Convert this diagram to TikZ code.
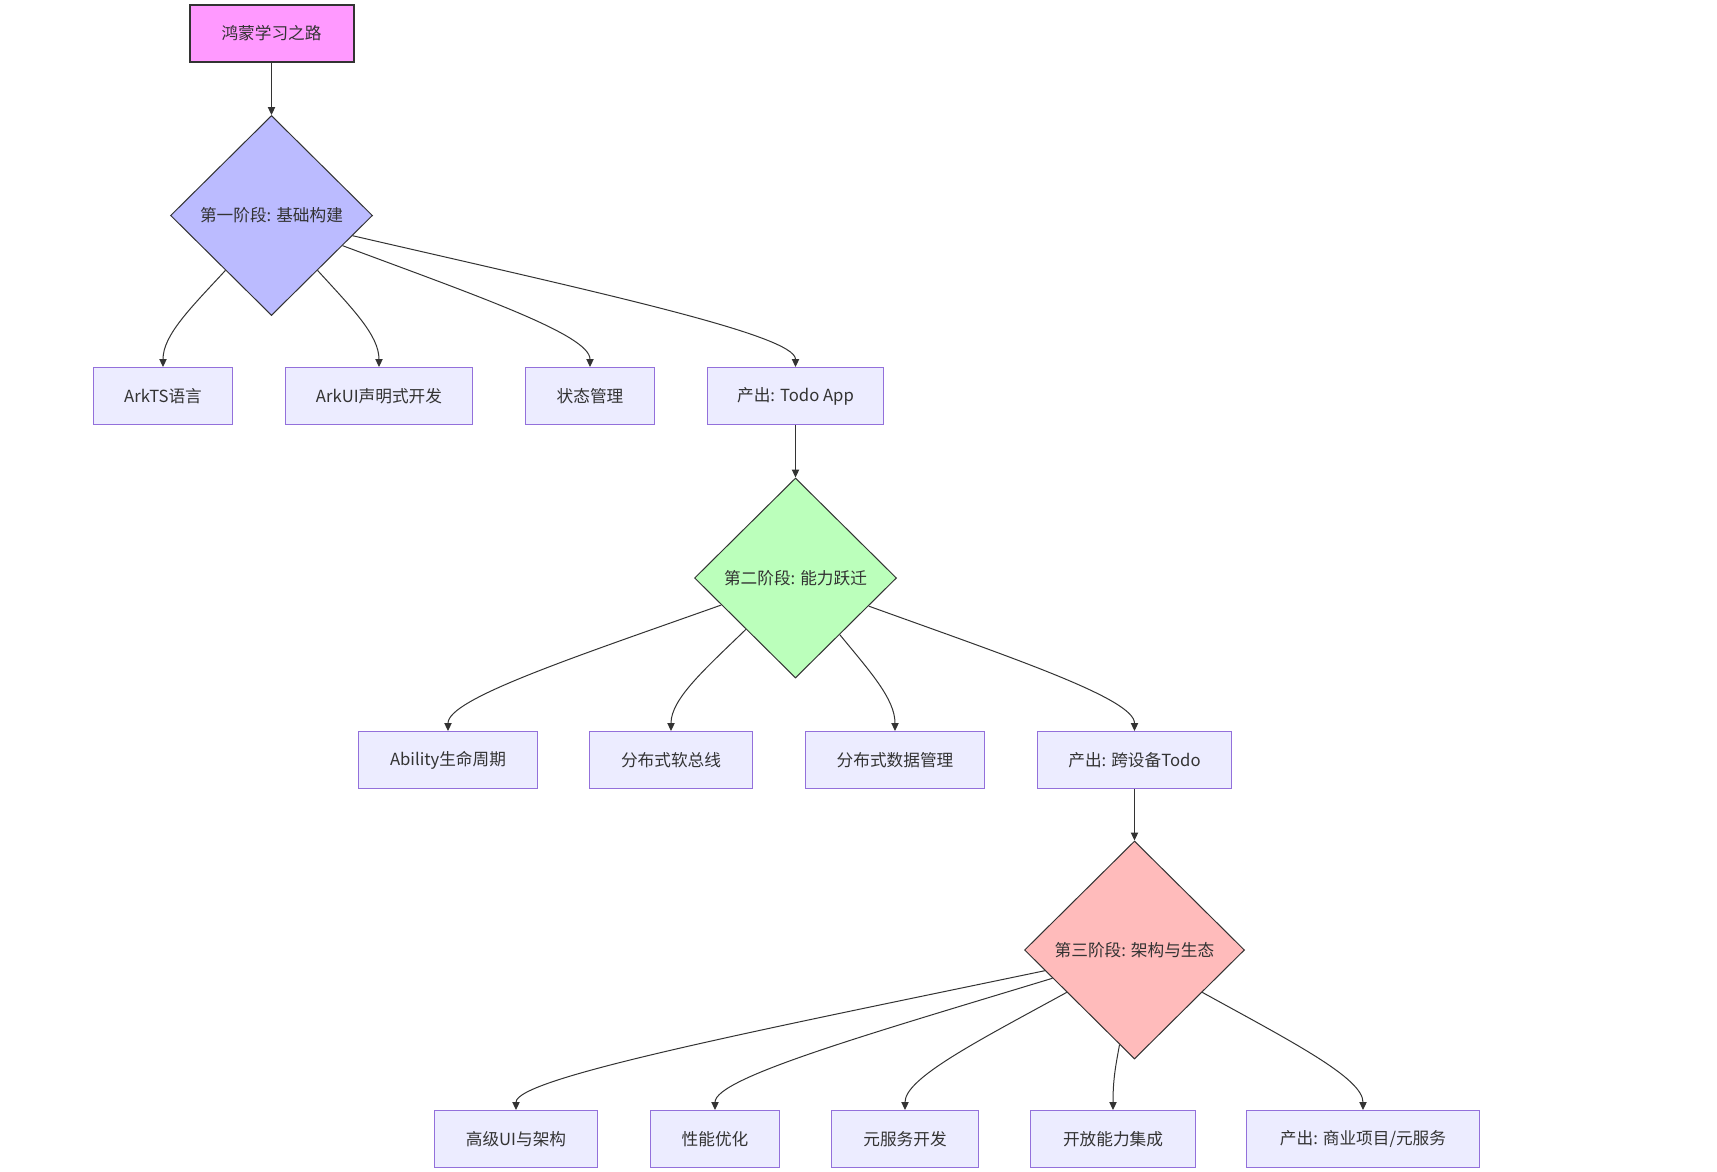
\documentclass[tikz,border=0pt]{standalone}
\usepackage{fontspec}
\setmainfont{Noto Sans CJK SC}
\usetikzlibrary{shapes.geometric,arrows.meta,calc}
\definecolor{txt}{HTML}{333333}
\definecolor{boxline}{HTML}{9370DB}
\definecolor{boxfill}{HTML}{ECECFF}
\definecolor{startfill}{HTML}{FF99FF}
\definecolor{dOne}{HTML}{BBBBFF}
\definecolor{dTwo}{HTML}{BBFFBB}
\definecolor{dThree}{HTML}{FFBBBB}
\begin{document}
\begin{tikzpicture}[x=0.75pt,y=-0.75pt,
  every node/.style={text=txt,font=\fontsize{12.5}{15}\selectfont,inner sep=0pt},
  box/.style={draw=boxline,fill=boxfill,line width=0.75pt,minimum height=42.75pt},
  startbox/.style={draw=txt,fill=startfill,line width=1.5pt,minimum height=42.75pt,minimum width=123pt},
  dia/.style={diamond,aspect=1,draw=txt,line width=0.75pt},
  arr/.style={draw=txt,line width=0.75pt,-{Triangle[length=6pt,width=5.5pt]}},
  curv/.style={arr,to path={.. controls ($(\tikztostart)!0.55!(\tikztotarget)+(0,-16)$) and ($(\tikztotarget)+(0,-32)$) .. (\tikztotarget)}}]
\useasboundingbox (0,0) rectangle (1717,1171);
\fill[white] (0,0) rectangle (1717,1171);

\node[startbox] (top) at (271.5,33.5) {鸿蒙学习之路};
\node[dia,fill=dOne,minimum width=151.5pt,minimum height=150pt] (d1) at (271.5,215.5) {第一阶段: 基础构建};

\node[box,minimum width=104.25pt] (b11) at (163,396) {ArkTS语言};
\node[box,minimum width=140.25pt] (b12) at (379,396) {ArkUI声明式开发};
\node[box,minimum width=96.75pt] (b13) at (590,396) {状态管理};
\node[box,minimum width=132pt] (b14) at (795.5,396) {产出: Todo App};

\node[dia,fill=dTwo,minimum width=151.5pt,minimum height=150pt] (d2) at (795.5,578) {第二阶段: 能力跃迁};

\node[box,minimum width=134.25pt] (b21) at (448,760) {Ability生命周期};
\node[box,minimum width=122.25pt] (b22) at (671,760) {分布式软总线};
\node[box,minimum width=134.25pt] (b23) at (895,760) {分布式数据管理};
\node[box,minimum width=145.5pt] (b24) at (1134.5,760) {产出: 跨设备Todo};

\node[dia,fill=dThree,minimum width=165pt,minimum height=163.5pt] (d3) at (1134.5,950) {第三阶段: 架构与生态};

\node[box,minimum width=122.25pt] (b31) at (516,1139) {高级UI与架构};
\node[box,minimum width=96.75pt] (b32) at (715,1139) {性能优化};
\node[box,minimum width=110.25pt] (b33) at (905,1139) {元服务开发};
\node[box,minimum width=123.75pt] (b34) at (1113,1139) {开放能力集成};
\node[box,minimum width=174.75pt] (b35) at (1363,1139) {产出: 商业项目/元服务};

\draw[arr] (top.south) -- (d1.north);
\draw[arr] (b14.south) -- (d2.north);
\draw[arr] (b24.south) -- (d3.north);

\draw[curv] (d1.230) to (b11.north);
\draw[curv] (d1.310) to (b12.north);
\draw[curv] (d1.337) to (b13.north);
\draw[curv] (d1.346) to (b14.north);

\draw[curv] (d2.200.5) to (b21.north);
\draw[curv] (d2.226) to (b22.north);
\draw[curv] (d2.308) to (b23.north);
\draw[curv] (d2.339) to (b24.north);

\draw[curv] (d3.193.6) to (b31.north);
\draw[curv] (d3.199.7) to (b32.north);
\draw[curv] (d3.212) to (b33.north);
\draw[curv] (d3.261.6) to (b34.north);
\draw[curv] (d3.328.7) to (b35.north);
\end{tikzpicture}
\end{document}
